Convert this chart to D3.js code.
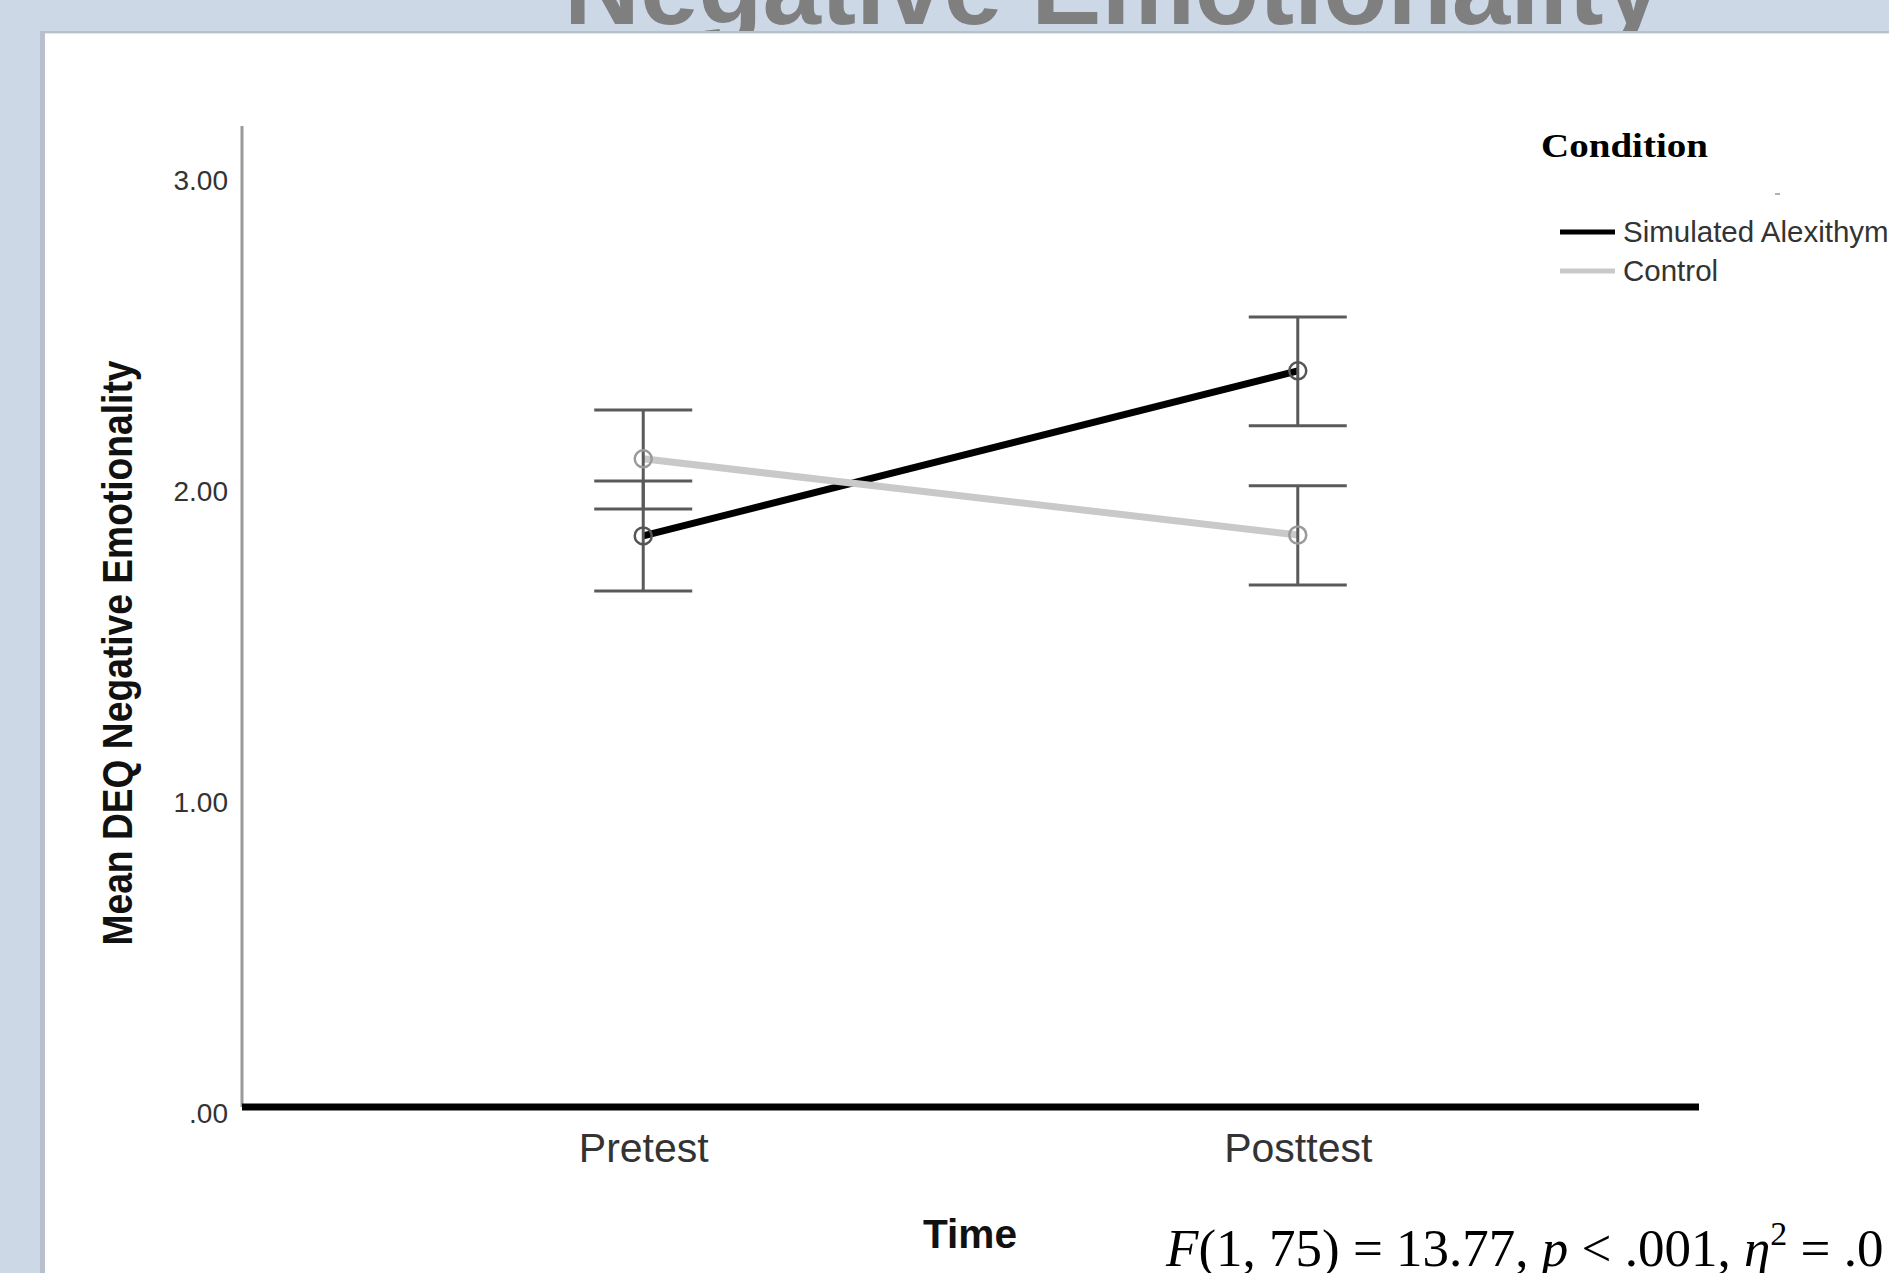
<!DOCTYPE html>
<html>
<head>
<meta charset="utf-8">
<script src="https://cdn.jsdelivr.net/npm/d3@7"></script>
<style>
  html, body { margin: 0; padding: 0; background: #cdd8e6; overflow: hidden; }
  svg { display: block; }
</style>
</head>
<body>
<svg id="chart" width="1889" height="1273"></svg>
<script>
// ---- data ----
const categories = ["Pretest", "Posttest"];
const seriesNames = ["Simulated Alexithymia", "Control"];
const simMeans  = [1.836, 2.367];
const simLower  = [1.659, 2.190];
const simUpper  = [2.013, 2.540];
const ctrlMeans = [2.084, 1.839];
const ctrlLower = [1.923, 1.678];
const ctrlUpper = [2.241, 1.997];
const yTickValues = [0, 1, 2, 3];
const yTickLabels = [".00", "1.00", "2.00", "3.00"];
const titleText = "Negative Emotionality";
const yTitle = "Mean DEQ Negative Emotionality";
const xTitle = "Time";
const legendTitle = "Condition";

const series = [
  { name: seriesNames[0], means: simMeans, lower: simLower, upper: simUpper, color: "#000000" },
  { name: seriesNames[1], means: ctrlMeans, lower: ctrlLower, upper: ctrlUpper, color: "#c9c9c9" }
];

const svg = d3.select("#chart");

// background
svg.append("rect").attr("width", 1889).attr("height", 1273).attr("fill", "#cdd8e6");

// slide title (mostly hidden behind the panel)
svg.append("text")
  .attr("x", 564).attr("y", 24)
  .attr("font-family", "Liberation Sans, Arial, sans-serif")
  .attr("font-weight", "bold")
  .attr("font-size", 108)
  .attr("fill", "#7f7f7f")
  .attr("textLength", 1098)
  .attr("lengthAdjust", "spacingAndGlyphs")
  .text(titleText);

// white panel with shadow
svg.append("rect").attr("x", 40).attr("y", 31).attr("width", 1860).attr("height", 1250).attr("fill", "#b7c0cc");
svg.append("rect").attr("x", 45).attr("y", 33).attr("width", 1850).attr("height", 1250).attr("fill", "#ffffff");
svg.append("line").attr("x1", 45).attr("x2", 1889).attr("y1", 33.5).attr("y2", 33.5).attr("stroke", "#e6e6e6").attr("stroke-width", 1);

// scales
const y = d3.scaleLinear().domain([0, 3.154]).range([1107, 126]);
const x = d3.scalePoint().domain(categories).range([242, 1699]).padding(0.613);

const g = svg.append("g");

// y axis line
g.append("line").attr("x1", 242).attr("x2", 242).attr("y1", y(3.154)).attr("y2", y(0))
  .attr("stroke", "#9a9a9a").attr("stroke-width", 3);

// y tick labels via axis
const yAxis = d3.axisLeft(y).tickValues(yTickValues).tickSize(0)
  .tickFormat((d, i) => yTickLabels[i]);
const yg = g.append("g").attr("transform", "translate(228,0)").call(yAxis);
yg.select(".domain").remove();
yg.selectAll("text")
  .attr("x", 0).attr("dy", "0.54em")
  .attr("font-family", "Liberation Sans, Arial, sans-serif")
  .attr("font-size", 28).attr("fill", "#333333");

// x axis labels via axis
const xAxis = d3.axisBottom(x).tickSize(0);
const xg = g.append("g").attr("transform", "translate(0,1107)").call(xAxis);
xg.select(".domain").remove();
xg.selectAll("text")
  .attr("y", 55).attr("dy", 0)
  .attr("font-family", "Liberation Sans, Arial, sans-serif")
  .attr("font-size", 41).attr("fill", "#333333");

// x axis thick baseline
g.append("line").attr("x1", 242).attr("x2", 1699).attr("y1", y(0)).attr("y2", y(0))
  .attr("stroke", "#000").attr("stroke-width", 7);

// axis titles
g.append("text")
  .attr("transform", "translate(132,653) rotate(-90)")
  .attr("text-anchor", "middle")
  .attr("font-family", "Liberation Sans, Arial, sans-serif")
  .attr("font-weight", "bold").attr("font-size", 42).attr("fill", "#111")
  .attr("textLength", 585).attr("lengthAdjust", "spacingAndGlyphs")
  .text(yTitle);

g.append("text")
  .attr("x", 970).attr("y", 1248).attr("text-anchor", "middle")
  .attr("font-family", "Liberation Sans, Arial, sans-serif")
  .attr("font-weight", "bold").attr("font-size", 41).attr("fill", "#111")
  .attr("textLength", 94).attr("lengthAdjust", "spacingAndGlyphs")
  .text(xTitle);

// lines
const line = d3.line().x((d, i) => x(categories[i])).y(d => y(d));
series.forEach(s => {
  g.append("path").datum(s.means)
    .attr("d", line).attr("fill", "none")
    .attr("stroke", s.color).attr("stroke-width", 7).attr("stroke-linecap", "butt");
});

// error bars + markers
const capHalf = 49;
series.forEach(s => {
  categories.forEach((c, i) => {
    const cx = x(c);
    const eb = g.append("g").attr("stroke", "#5a5a5a").attr("stroke-width", 3).attr("fill", "none");
    eb.append("line").attr("x1", cx).attr("x2", cx).attr("y1", y(s.upper[i])).attr("y2", y(s.lower[i]));
    eb.append("line").attr("x1", cx - capHalf).attr("x2", cx + capHalf).attr("y1", y(s.upper[i])).attr("y2", y(s.upper[i]));
    eb.append("line").attr("x1", cx - capHalf).attr("x2", cx + capHalf).attr("y1", y(s.lower[i])).attr("y2", y(s.lower[i]));
    g.append("circle").attr("cx", cx).attr("cy", y(s.means[i])).attr("r", 8.5)
      .attr("fill", "none")
      .attr("stroke", s.color === "#000000" ? "#555" : "#9a9a9a")
      .attr("stroke-width", 2.5);
  });
});

// legend
const lg = svg.append("g");
lg.append("text").attr("x", 1541).attr("y", 157)
  .attr("font-family", "Liberation Serif, Times New Roman, serif")
  .attr("font-weight", "bold").attr("font-size", 34).attr("fill", "#000")
  .attr("textLength", 167).attr("lengthAdjust", "spacingAndGlyphs")
  .text(legendTitle);
lg.append("line").attr("x1", 1775).attr("x2", 1780).attr("y1", 194).attr("y2", 194)
  .attr("stroke", "#999").attr("stroke-width", 1.5);
const legendY = [232, 271];
series.forEach((s, i) => {
  lg.append("line").attr("x1", 1560).attr("x2", 1615).attr("y1", legendY[i]).attr("y2", legendY[i])
    .attr("stroke", s.color).attr("stroke-width", 5);
  lg.append("text").attr("x", 1623).attr("y", legendY[i] + 10)
    .attr("font-family", "Liberation Sans, Arial, sans-serif")
    .attr("font-size", 29.5).attr("fill", "#333")
    .text(s.name);
});

// statistics annotation
const ann = svg.append("text").attr("x", 1166).attr("y", 1266)
  .attr("font-family", "Liberation Serif, Times New Roman, serif")
  .attr("font-size", 53).attr("fill", "#000");
ann.append("tspan").attr("font-style", "italic").text("F");
ann.append("tspan").text("(1, 75) = 13.77, ");
ann.append("tspan").attr("font-style", "italic").text("p");
ann.append("tspan").text(" < .001, ");
ann.append("tspan").attr("font-style", "italic").text("η");
ann.append("tspan").attr("font-size", 34).attr("dy", -21).text("2");
ann.append("tspan").attr("dy", 21).text(" = .0");
</script>
</body>
</html>
